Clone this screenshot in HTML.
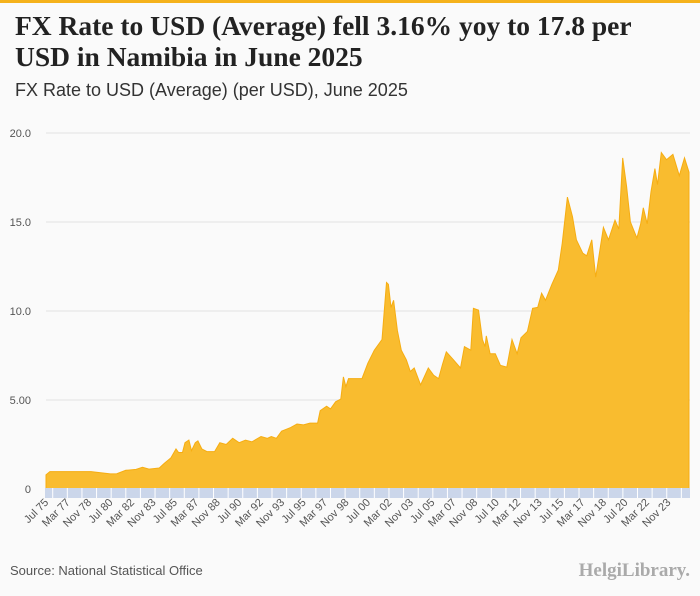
<!DOCTYPE html>
<html><head><meta charset="utf-8"><style>
body{margin:0;width:700px;height:596px;background:#fafafa;font-family:"Liberation Sans",sans-serif;overflow:hidden;position:relative}
#topbar{position:absolute;left:0;top:0;width:700px;height:3px;background:#f5b21c}
h1{position:absolute;left:15px;top:10px;margin:0;font:bold 27.5px/31px "Liberation Serif",serif;color:#222;width:690px;white-space:nowrap}
#sub{position:absolute;left:15px;top:80px;font-size:18px;color:#333}
#src{position:absolute;left:10px;top:563px;font-size:13px;color:#555}
#logo{position:absolute;right:10px;top:560px;font:bold 19px "Liberation Serif",serif;color:#aaa}
svg{position:absolute;left:0;top:0}
</style></head><body>
<div id="topbar"></div>
<h1>FX Rate to USD (Average) fell 3.16% yoy to 17.8 per<br>USD in Namibia in June 2025</h1>
<div id="sub">FX Rate to USD (Average) (per USD), June 2025</div>
<svg id="chart" width="700" height="596"></svg>
<div id="src">Source: National Statistical Office</div>
<div id="logo">HelgiLibrary.</div>
<script>
const dates=[1975.5,1975.8,1979,1980.5,1981,1981.7,1982.5,1983,1983.5,1984.3,1984.7,1985.2,1985.6,1985.8,1986.1,1986.3,1986.6,1986.8,1987.1,1987.3,1987.6,1988,1988.6,1989,1989.5,1990,1990.5,1991,1991.5,1992.2,1992.7,1993,1993.4,1993.8,1994.5,1995,1995.5,1996,1996.6,1996.8,1997.3,1997.6,1998,1998.4,1998.6,1998.8,1999,2000.05,2000.5,2001,2001.6,2001.95,2002.1,2002.3,2002.5,2002.8,2003.1,2003.5,2003.8,2004.1,2004.6,2005.2,2005.6,2006,2006.3,2006.6,2007.1,2007.7,2008,2008.5,2008.7,2009.1,2009.4,2009.6,2009.7,2010,2010.4,2010.8,2011.3,2011.7,2012.1,2012.4,2012.9,2013.3,2013.7,2014,2014.3,2014.8,2015.3,2015.6,2016,2016.4,2016.7,2017.2,2017.5,2017.9,2018.2,2018.8,2019.2,2019.7,2020,2020.3,2020.6,2020.9,2021.4,2021.7,2021.9,2022.2,2022.5,2022.8,2023,2023.3,2023.7,2024.2,2024.7,2025.1,2025.45];
const values=[0.8,0.98,0.98,0.85,0.86,1.05,1.1,1.22,1.12,1.18,1.45,1.75,2.25,2.05,2.05,2.6,2.75,2.15,2.6,2.7,2.25,2.1,2.1,2.6,2.5,2.85,2.6,2.75,2.65,2.95,2.85,2.95,2.85,3.25,3.45,3.65,3.6,3.7,3.7,4.4,4.65,4.5,4.9,5.05,6.3,5.75,6.2,6.2,7.06,7.8,8.4,11.6,11.5,10.2,10.6,8.9,7.8,7.25,6.6,6.8,5.85,6.8,6.4,6.2,7.0,7.7,7.3,6.8,8.0,7.8,10.15,10.05,8.4,8.0,8.6,7.6,7.6,6.95,6.85,8.4,7.6,8.5,8.85,10.15,10.2,11.0,10.6,11.5,12.3,13.8,16.4,15.3,14.0,13.25,13.1,14.0,11.9,14.7,14.0,15.1,14.6,18.6,17.0,15.0,14.1,14.9,15.8,14.9,16.7,18.0,17.1,18.9,18.5,18.8,17.6,18.6,17.8];
const yTicks=[0,5,10,15,20];
const yTickLabels=["0","5.00","10.0","15.0","20.0"];
const NS="http://www.w3.org/2000/svg";
const svg=document.getElementById('chart');
const x0=46,x1=689,y0=489,y1=133,d0=1975.5,d1=2025.45;
const X=d=>x0+(d-d0)/(d1-d0)*(x1-x0);
const Y=v=>y0-v/20*(y0-y1);
function el(t,a){const e=document.createElementNS(NS,t);for(const k in a)e.setAttribute(k,a[k]);svg.appendChild(e);return e;}
yTicks.forEach((t,i)=>{
  const g=el('line',{x1:46,x2:690,y1:Y(t),y2:Y(t),stroke:'#e3e3e3','stroke-width':1});
  
  
  const l=el('text',{x:31,y:Y(t)+4,'text-anchor':'end','font-size':11,fill:'#555','font-family':'Liberation Sans'});
  l.textContent=yTickLabels[i];
  
  
});
let p='M'+X(dates[0])+','+Y(0);
dates.forEach((d,i)=>{p+=' L'+X(d).toFixed(1)+','+Y(values[i]).toFixed(1);});
p+=' L'+X(dates[dates.length-1])+','+Y(0)+' Z';
const area=el('path',{d:p,fill:'#f9bc2f',stroke:'#f6ad12','stroke-width':1});


const band=el('rect',{x:45,y:488,width:645,height:10,fill:'#cbd6ea'});


for(let sx=52.7;sx<690;sx+=14.62){
  const s=el('line',{x1:sx,x2:sx,y1:488,y2:498,stroke:'#fff','stroke-width':1});
  
  
}
for(let k=0;k<30;k++){
  const m=6+20*k;
  const yr=1975+Math.floor(m/12), mo=m%12;
  const name=mo===6?'Jul':mo===2?'Mar':'Nov';
  const d=yr+mo/12;
  const tx=X(d+0.01)+3,ty=503;
  const t=el('text',{x:tx,y:ty,'text-anchor':'end','font-size':11,fill:'#555','font-family':'Liberation Sans',transform:`rotate(-45 ${tx} ${ty})`});
  t.textContent=name+' '+String(yr%100).padStart(2,'0');
  
  
}
</script>
</body></html>
